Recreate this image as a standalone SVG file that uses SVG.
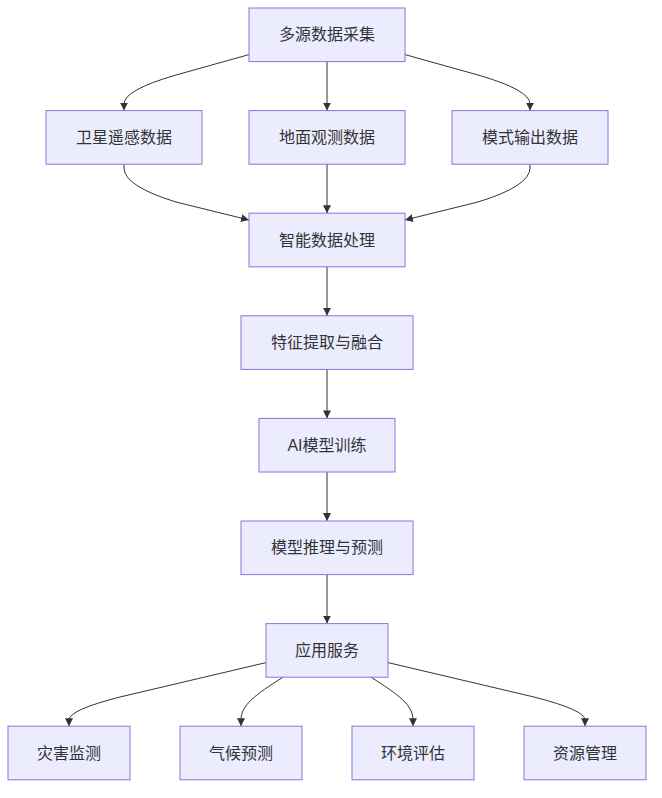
<svg xmlns="http://www.w3.org/2000/svg" width="662" height="798" viewBox="0 0 662 798">
<style>
.node rect{fill:#ECECFF;stroke:#9370DB;stroke-width:1}
.node text{font-family:"Liberation Sans","Noto Sans CJK SC",sans-serif;font-size:16px;fill:#333;text-anchor:middle}
.edges path{fill:none;stroke:#333;stroke-width:1;marker-end:url(#arrow)}
</style>
<defs>
<marker id="arrow" viewBox="0 0 10 10" refX="10" refY="5" markerWidth="8" markerHeight="8" markerUnits="userSpaceOnUse" orient="auto">
<path d="M0,0 L10,5 L0,10 z" fill="#333"/>
</marker>
</defs>
<rect width="662" height="798" fill="#ffffff"/>
<g class="edges">
<path d="M249,54.6 L176,75 Q124,90 124,104 L124,110.6"/>
<path d="M327,61.6 L327,110.6"/>
<path d="M405,54.6 L478,75 Q530,90 530,104 L530,110.6"/>
<path d="M124,164.2 L124,168 Q124,186 176,202 L249,220"/>
<path d="M327,164.2 L327,213.2"/>
<path d="M530,164.2 L530,168 Q530,186 478,202 L405,220"/>
<path d="M327,266.8 L327,315.8"/>
<path d="M327,369.4 L327,418.4"/>
<path d="M327,472 L327,521"/>
<path d="M327,574.6 L327,623.6"/>
<path d="M266,662.6 L120,697 Q69,710 69,720 L69,726.2"/>
<path d="M283,677.2 C255,695 241,705 241,720 L241,726.2"/>
<path d="M371,677.2 C399,695 413,705 413,720 L413,726.2"/>
<path d="M388,662.6 L534,697 Q585,710 585,720 L585,726.2"/>
</g>
<g id="n1" class="node"><rect x="249" y="8" width="156" height="53.6"/><text x="327" y="40.3">多源数据采集</text></g>
<g id="n2" class="node"><rect x="46" y="110.6" width="156" height="53.6"/><text x="124" y="142.9">卫星遥感数据</text></g>
<g id="n3" class="node"><rect x="249" y="110.6" width="156" height="53.6"/><text x="327" y="142.9">地面观测数据</text></g>
<g id="n4" class="node"><rect x="452" y="110.6" width="156" height="53.6"/><text x="530" y="142.9">模式输出数据</text></g>
<g id="n5" class="node"><rect x="249" y="213.2" width="156" height="53.6"/><text x="327" y="245.5">智能数据处理</text></g>
<g id="n6" class="node"><rect x="241" y="315.8" width="172" height="53.6"/><text x="327" y="348.1">特征提取与融合</text></g>
<g id="n7" class="node"><rect x="259" y="418.4" width="136" height="53.6"/><text x="327" y="450.7">AI模型训练</text></g>
<g id="n8" class="node"><rect x="241" y="521" width="172" height="53.6"/><text x="327" y="553.3">模型推理与预测</text></g>
<g id="n9" class="node"><rect x="266" y="623.6" width="122" height="53.6"/><text x="327" y="655.9">应用服务</text></g>
<g id="n10" class="node"><rect x="8" y="726.2" width="122" height="53.6"/><text x="69" y="758.5">灾害监测</text></g>
<g id="n11" class="node"><rect x="180" y="726.2" width="122" height="53.6"/><text x="241" y="758.5">气候预测</text></g>
<g id="n12" class="node"><rect x="352" y="726.2" width="122" height="53.6"/><text x="413" y="758.5">环境评估</text></g>
<g id="n13" class="node"><rect x="524" y="726.2" width="122" height="53.6"/><text x="585" y="758.5">资源管理</text></g>
</svg>
